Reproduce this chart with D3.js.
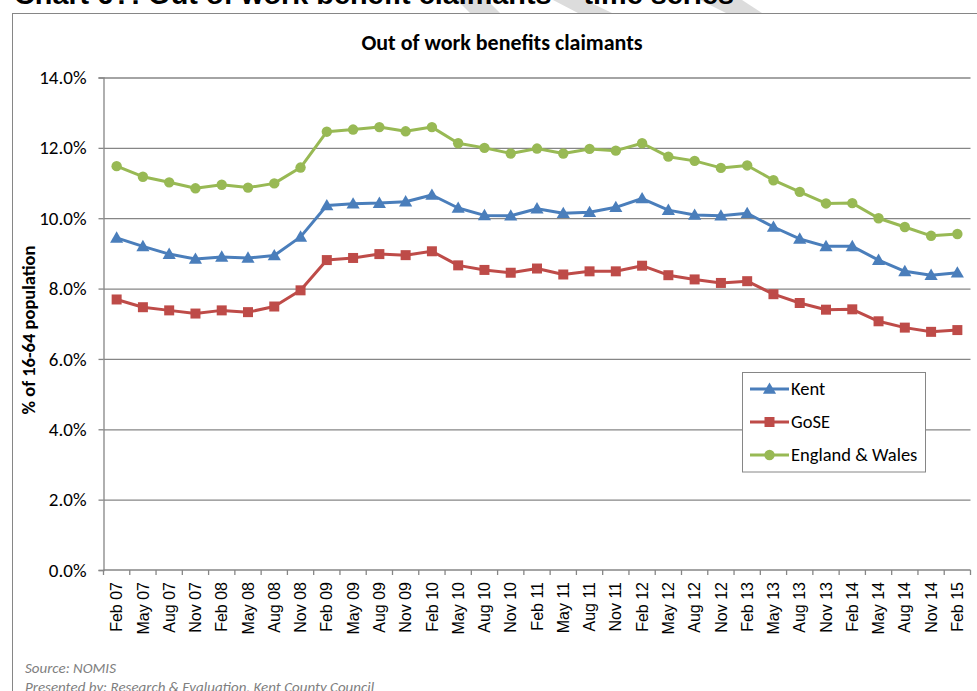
<!DOCTYPE html>
<html>
<head>
<meta charset="utf-8">
<script src="https://cdn.jsdelivr.net/npm/d3@7/dist/d3.min.js"></script>
<style>
  html, body { margin: 0; padding: 0; background: #fff; }
  svg { display: block; }
  .cal { font-family: Carlito, Calibri, Lato, "Open Sans", sans-serif; }
</style>
</head>
<body>
<svg id="chart" width="977" height="691"></svg>
<script>
// Quarterly periods
const categories = ["Feb 07","May 07","Aug 07","Nov 07","Feb 08","May 08","Aug 08","Nov 08",
  "Feb 09","May 09","Aug 09","Nov 09","Feb 10","May 10","Aug 10","Nov 10",
  "Feb 11","May 11","Aug 11","Nov 11","Feb 12","May 12","Aug 12","Nov 12",
  "Feb 13","May 13","Aug 13","Nov 13","Feb 14","May 14","Aug 14","Nov 14","Feb 15"];

// Out of work benefit claimants, % of 16-64 population
const kent = [9.44,9.20,8.98,8.84,8.90,8.87,8.94,9.47,10.36,10.41,10.43,10.47,10.66,10.29,10.08,10.07,
  10.27,10.14,10.17,10.31,10.56,10.23,10.09,10.07,10.14,9.75,9.41,9.20,9.20,8.81,8.49,8.38,8.45];
const gose = [7.69,7.47,7.38,7.29,7.38,7.33,7.49,7.95,8.81,8.87,8.98,8.95,9.06,8.66,8.53,8.45,
  8.57,8.40,8.49,8.49,8.65,8.38,8.26,8.16,8.21,7.84,7.59,7.40,7.41,7.07,6.89,6.77,6.82];
const englandWales = [11.48,11.18,11.02,10.85,10.95,10.87,10.99,11.44,12.46,12.52,12.59,12.47,12.59,12.13,12.00,11.84,
  11.98,11.84,11.97,11.92,12.13,11.75,11.63,11.43,11.50,11.08,10.75,10.42,10.43,10.00,9.75,9.50,9.55];

const yTicks = [0, 2, 4, 6, 8, 10, 12, 14];

const series = [
  { name: "Kent", values: kent, color: "#4a7ebb", marker: "triangle" },
  { name: "GoSE", values: gose, color: "#be4b48", marker: "square" },
  { name: "England & Wales", values: englandWales, color: "#98b954", marker: "circle" }
];

const svg = d3.select("#chart");
const gridColor = "#868686";

// Partial page heading and background watermark above the chart frame
const wm = svg.append("g").attr("fill", "#dcdcdc");
[[[457,0],[487,0],[500,13],[470,13]],
 [[553,0],[585,0],[612,13],[578,13]],
 [[700,0],[742,0],[762,13],[726,13]]].forEach(p => {
  wm.append("polygon").attr("points", p.map(q => q.join(",")).join(" "));
});
svg.append("text")
  .attr("x", 14).attr("y", 4)
  .attr("font-family", "Liberation Sans, Arial, sans-serif")
  .attr("font-weight", "bold").attr("font-size", 28)
  .attr("fill", "#000")
  .attr("textLength", 720).attr("lengthAdjust", "spacingAndGlyphs")
  .text("Chart 6?: Out of work benefit claimants – time series");

// Chart frame
svg.append("rect")
  .attr("x", 12.5).attr("y", 13.5).attr("width", 1000).attr("height", 720)
  .attr("fill", "#fff").attr("stroke", gridColor).attr("stroke-width", 1);

// Chart title
svg.append("text").attr("class", "cal")
  .attr("x", 502).attr("y", 50)
  .attr("text-anchor", "middle").attr("font-weight", "bold").attr("font-size", 22)
  .attr("fill", "#000")
  .text("Out of work benefits claimants");

const plotLeft = 103.5, plotRight = 970.5, plotTop = 77.5, plotBottom = 570;

const x = d3.scaleBand().domain(categories).range([plotLeft, plotRight]);
const y = d3.scaleLinear().domain([0, 14]).range([plotBottom, plotTop]);
const cx = c => x(c) + x.bandwidth() / 2;

// Horizontal gridlines
const grid = svg.append("g")
  .attr("transform", `translate(${plotLeft},0)`)
  .call(d3.axisLeft(y).tickValues(yTicks.filter(t => t > 0)).tickSize(-(plotRight - plotLeft)).tickFormat(""));
grid.select(".domain").remove();
grid.selectAll("line").attr("stroke", gridColor).attr("stroke-width", 1.3);

// Y axis
const yAxis = svg.append("g")
  .attr("transform", `translate(${plotLeft},0)`)
  .call(d3.axisLeft(y).tickValues(yTicks).tickSize(5).tickPadding(12)
    .tickFormat(d => d.toFixed(1) + "%"));
yAxis.select(".domain").attr("stroke", gridColor).attr("stroke-width", 1.3);
yAxis.selectAll("line").attr("stroke", gridColor).attr("stroke-width", 1.3);
yAxis.selectAll("text").attr("class", "cal").attr("font-size", 19).attr("fill", "#000");

// X axis
const xAxis = svg.append("g")
  .attr("transform", `translate(0,${plotBottom})`)
  .call(d3.axisBottom(x).tickSize(0).tickPadding(0));
xAxis.select(".domain").attr("d", `M${plotLeft},0H${plotRight}`).attr("stroke", gridColor).attr("stroke-width", 1.3);
xAxis.selectAll(".tick text")
  .attr("font-family", "Liberation Sans, Arial, sans-serif")
  .attr("font-size", 16).attr("fill", "#000")
  .attr("text-anchor", "end")
  .attr("dy", "0.35em")
  .attr("transform", "translate(0,12) rotate(-90)")
  .attr("x", 0).attr("y", 0);
const boundaries = categories.map(c => x(c)).concat([plotRight]);
xAxis.selectAll(".bound").data(boundaries).enter().append("line")
  .attr("class", "bound")
  .attr("x1", d => d).attr("x2", d => d).attr("y1", 0).attr("y2", 5)
  .attr("stroke", gridColor).attr("stroke-width", 1.3);

// Y axis title
svg.append("text").attr("class", "cal")
  .attr("transform", "translate(35,330) rotate(-90)")
  .attr("text-anchor", "middle").attr("font-weight", "bold").attr("font-size", 18.5)
  .attr("fill", "#000")
  .text("% of 16-64 population");

// Marker shapes
const symbolFor = {
  triangle: d3.symbol().type(d3.symbolTriangle).size(75),
  square: d3.symbol().type(d3.symbolSquare).size(100),
  circle: d3.symbol().type(d3.symbolCircle).size(85)
};

const line = d3.line().x(d => cx(d.c)).y(d => y(d.v));

series.forEach(s => {
  const pts = categories.map((c, i) => ({ c, v: s.values[i] }));
  const g = svg.append("g");
  g.append("path").datum(pts)
    .attr("d", line).attr("fill", "none")
    .attr("stroke", s.color).attr("stroke-width", 3).attr("stroke-linejoin", "round");
  g.selectAll("path.m").data(pts).enter().append("path")
    .attr("class", "m")
    .attr("transform", d => `translate(${cx(d.c)},${y(d.v) + (s.marker === "triangle" ? 1 : 0)})`)
    .attr("d", symbolFor[s.marker]())
    .attr("fill", s.color);
});

// Legend
const legend = svg.append("g");
legend.append("rect")
  .attr("x", 742.5).attr("y", 372.5).attr("width", 183).attr("height", 99.5)
  .attr("fill", "#fff").attr("stroke", gridColor).attr("stroke-width", 1);
series.forEach((s, i) => {
  const ly = 389 + i * 33;
  legend.append("line")
    .attr("x1", 750).attr("x2", 789).attr("y1", ly).attr("y2", ly)
    .attr("stroke", s.color).attr("stroke-width", 3);
  legend.append("path")
    .attr("transform", `translate(769.5,${ly + (s.marker === "triangle" ? 1 : 0)})`)
    .attr("d", symbolFor[s.marker]())
    .attr("fill", s.color);
  legend.append("text").attr("class", "cal")
    .attr("x", 791).attr("y", ly + 6)
    .attr("font-size", 18.5).attr("fill", "#000")
    .text(s.name);
});

// Footnotes
svg.append("text").attr("class", "cal")
  .attr("x", 25).attr("y", 673)
  .attr("font-style", "italic").attr("font-size", 15).attr("fill", "#7f7f7f")
  .text("Source: NOMIS");
svg.append("text").attr("class", "cal")
  .attr("x", 25).attr("y", 692)
  .attr("font-style", "italic").attr("font-size", 15).attr("fill", "#7f7f7f")
  .text("Presented by: Research & Evaluation, Kent County Council");
</script>
</body>
</html>
